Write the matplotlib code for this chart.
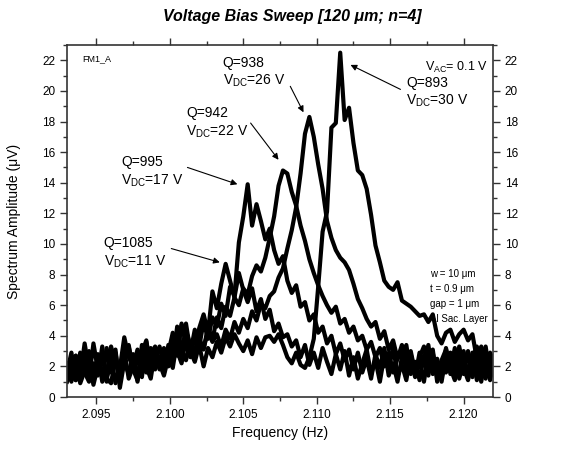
import numpy as np
import matplotlib
matplotlib.use('Agg')
import matplotlib.pyplot as plt
from matplotlib.ticker import MultipleLocator, FormatStrFormatter

plt.rcParams['font.family'] = ['Liberation Sans', 'DejaVu Sans']
plt.rcParams['mathtext.fontset'] = 'custom'
plt.rcParams['mathtext.rm'] = 'Liberation Sans'
plt.rcParams['mathtext.it'] = 'Liberation Sans:italic'

# sweep frequencies (Hz), 0.3 mHz steps
freq = np.round(2.0930 + 0.0003 * np.arange(98), 4)

# spectrum amplitude (uV) for each DC bias
v11 = [1.3, 2.4, 1.1, 2.9, 1.6, 1.0, 2.2, 1.4, 3.3, 1.2, 0.9, 2.5, 1.7, 3.1, 1.2, 2.0, 2.9, 1.5, 2.4, 3.2,
       1.8, 2.6, 1.6, 3.4, 2.3, 4.6, 3.1, 2.4, 3.6, 2.8, 4.5, 5.4, 4.2, 6.9, 5.8, 7.4, 8.7, 7.6, 6.5, 8.1,
       7.0, 6.2, 7.1, 5.6, 6.4, 5.1, 5.7, 4.3, 4.8, 3.9, 4.1, 3.3, 3.7, 2.6, 3.4, 2.1, 2.9, 1.9, 3.2, 2.3,
       1.5, 2.8, 1.8, 3.0, 1.4, 2.6, 1.2, 2.2, 3.1, 1.5, 2.4, 1.0, 2.7, 1.8, 3.3, 1.4, 2.1, 1.1, 2.8, 1.6,
       2.3, 1.0, 2.9, 1.7, 2.5, 1.2, 3.2, 1.9, 1.1, 2.6, 1.5, 3.0, 1.3, 2.4, 1.0, 2.7, 1.6, 2.2]
v17 = [1.9, 1.0, 2.7, 1.4, 3.5, 1.8, 1.2, 2.8, 1.0, 3.2, 1.6, 2.9, 1.1, 2.4, 3.3, 1.7, 2.6, 1.3, 3.6, 2.1,
       2.9, 1.8, 3.2, 2.0, 3.9, 2.7, 4.8, 3.4, 2.6, 4.0, 3.3, 4.9, 3.8, 5.2, 4.6, 6.1, 5.3, 7.2, 6.6, 10.1,
       11.8, 13.9, 11.2, 12.6, 11.5, 10.3, 11.0, 9.6, 8.7, 9.2, 7.6, 6.8, 7.3, 5.9, 6.2, 5.0, 5.4, 4.2, 4.6, 3.5,
       4.0, 2.8, 3.5, 2.4, 3.1, 1.8, 2.9, 1.6, 2.5, 1.2, 2.8, 1.9, 3.2, 1.4, 2.2, 1.0, 2.6, 3.4, 1.5, 2.3,
       1.1, 2.7, 1.4, 3.1, 1.0, 2.2, 1.6, 2.9, 1.3, 3.3, 1.9, 1.1, 2.6, 1.5, 3.0, 1.2, 2.4, 1.7]
v22 = [1.0, 2.0, 2.7, 0.9, 1.7, 3.0, 1.3, 2.4, 1.6, 1.0, 3.3, 2.2, 1.4, 2.7, 3.4, 1.8, 1.1, 2.9, 3.7, 1.7,
       2.5, 3.3, 2.1, 2.9, 4.2, 3.0, 2.2, 3.8, 2.9, 4.4, 3.5, 3.1, 4.6, 3.7, 5.2, 4.5, 5.9, 5.3, 6.5, 6.0,
       7.1, 6.7, 7.9, 8.6, 8.2, 9.1, 10.4, 11.8, 13.8, 14.8, 14.6, 13.4, 12.5, 11.2, 10.2, 9.0, 8.1, 7.3, 6.6, 6.0,
       5.5, 5.9, 4.8, 5.1, 4.2, 4.6, 3.7, 4.0, 3.1, 3.6, 2.6, 3.2, 2.0, 2.9, 1.6, 2.5, 3.1, 1.8, 2.4, 1.3,
       2.9, 2.1, 3.4, 1.5, 2.2, 1.0, 2.7, 1.7, 3.2, 1.2, 2.3, 1.6, 2.9, 1.1, 2.5, 3.3, 1.4, 2.0]
v26 = [2.2, 1.4, 1.1, 2.1, 2.6, 1.2, 3.5, 1.8, 2.5, 1.5, 2.7, 0.9, 1.9, 3.9, 2.6, 2.0, 3.1, 2.2, 1.6, 2.8,
       3.3, 2.4, 3.0, 2.5, 3.5, 2.9, 4.7, 4.3, 3.4, 2.6, 3.8, 3.2, 4.3, 3.6, 4.1, 3.3, 4.4, 3.8, 4.9, 4.2,
       5.1, 4.5, 5.6, 5.0, 6.1, 5.8, 6.6, 6.9, 7.8, 8.4, 9.7, 10.9, 12.4, 14.6, 17.2, 18.3, 17.0, 15.2, 13.6, 11.5,
       10.4, 9.6, 9.1, 8.8, 8.3, 7.4, 6.4, 5.8, 5.1, 4.6, 4.9, 3.8, 4.3, 3.1, 3.7, 2.5, 3.4, 2.2, 3.0, 1.6,
       2.6, 3.3, 1.8, 2.9, 1.3, 2.4, 3.1, 1.5, 2.7, 1.8, 3.0, 1.2, 2.5, 3.3, 1.7, 2.8, 1.1, 2.5]
v30 = [1.6, 2.9, 1.2, 1.9, 3.0, 2.3, 0.8, 2.0, 2.7, 1.3, 2.1, 3.1, 0.6, 2.3, 1.5, 2.8, 1.0, 3.4, 2.0, 1.2,
       3.0, 2.2, 1.4, 2.6, 1.9, 3.7, 2.5, 4.8, 3.0, 2.3, 3.4, 2.0, 3.2, 2.6, 3.6, 2.9, 3.9, 3.3, 4.1, 3.5,
       3.0, 3.7, 2.8, 3.9, 3.2, 3.9, 4.0, 3.6, 4.1, 3.4, 2.6, 2.2, 2.9, 2.1, 1.9, 2.6, 3.8, 7.2, 10.8, 12.1,
       17.6, 17.9, 22.5, 18.1, 18.9, 16.6, 14.8, 14.5, 13.6, 11.9, 9.9, 8.8, 7.6, 7.2, 7.0, 7.5, 6.3, 6.1, 5.9, 5.6,
       5.3, 5.4, 4.9, 5.4, 4.0, 3.5, 4.2, 4.4, 3.6, 4.1, 4.4, 3.7, 4.1, 2.5, 3.3, 1.8, 2.9, 2.2]

series = [v11, v17, v22, v26, v30]
q_labels = ['Q=1085', 'Q=995', 'Q=942', 'Q=938', 'Q=893']
vdc_labels = ['11 V', '17 V', '22 V', '26 V', '30 V']

fig = plt.figure(figsize=(5.87, 4.53), dpi=100)
ax = fig.add_axes([67 / 587, 56 / 453, 426 / 587, 352 / 453])

for s in series:
    ax.plot(freq, s, color='black', lw=3.0, solid_joinstyle='round')

ax.set_xlim(2.093, 2.122)
ax.set_ylim(0, 23)
ax.xaxis.set_major_locator(MultipleLocator(0.005))
ax.xaxis.set_minor_locator(MultipleLocator(0.0025))
ax.xaxis.set_major_formatter(FormatStrFormatter('%.3f'))
ax.yaxis.set_major_locator(MultipleLocator(2))
ax.yaxis.set_minor_locator(MultipleLocator(1))
ax.tick_params(which='both', direction='out', top=True, right=True, labelright=True,
               labelsize=8.5, width=1.0, color='#333333')
ax.tick_params(which='major', length=5)
ax.tick_params(which='minor', length=3)
for sp in ax.spines.values():
    sp.set_linewidth(1.2)
    sp.set_color('#333333')

ax.set_xlabel('Frequency (Hz)', fontsize=10, labelpad=4)
ax.set_ylabel('Spectrum Amplitude (\u03bcV)', fontsize=10, labelpad=15)
fig.text(292 / 587, 1 - 17 / 453, 'Voltage Bias Sweep [120 \u03bcm; n=4]', ha='center', va='center',
         fontsize=11.5, fontweight='bold', fontstyle='italic')

ax.text(0.035, 0.975, 'FM1_A', transform=ax.transAxes, fontsize=6.5, va='top', ha='left')
ax.text(0.988, 0.935, r'V$_{\mathrm{AC}}$= 0.1 V', transform=ax.transAxes, fontsize=9, ha='right', va='center')
ax.text(0.852, 0.285, 'w = 10 \u03bcm\nt = 0.9 \u03bcm\ngap = 1 \u03bcm\nAl Sac. Layer',
        transform=ax.transAxes, fontsize=7.0, ha='left', va='center', linespacing=1.65)

# label text positions, arrow tails, and arrow tip offsets from each peak
text_pos = [(2.0955, 9.4), (2.0967, 14.7), (2.1011, 17.9), (2.1036, 21.2), (2.1161, 19.9)]
tail_pos = [(2.1001, 9.7), (2.1012, 15.0), (2.1055, 17.9), (2.1082, 20.3), (2.1157, 20.1)]
tip_off = [(-0.0004, 0.1), (-0.0007, 0.0), (-0.0003, 0.7), (-0.0004, 0.3), (0.0007, -0.8)]
for s, ql, vl, tp, tl, off in zip(series, q_labels, vdc_labels, text_pos, tail_pos, tip_off):
    k = int(np.argmax(s))
    ax.text(tp[0], tp[1], ql + '\nV$_{\\mathrm{DC}}$=' + vl, fontsize=10, ha='left', va='center',
            linespacing=1.25)
    ax.annotate('', xy=(freq[k] + off[0], s[k] + off[1]), xytext=tl,
                arrowprops=dict(arrowstyle='-|>', lw=0.8, color='black', mutation_scale=9,
                                shrinkA=0, shrinkB=0))

fig.savefig('out.png', dpi=100)
